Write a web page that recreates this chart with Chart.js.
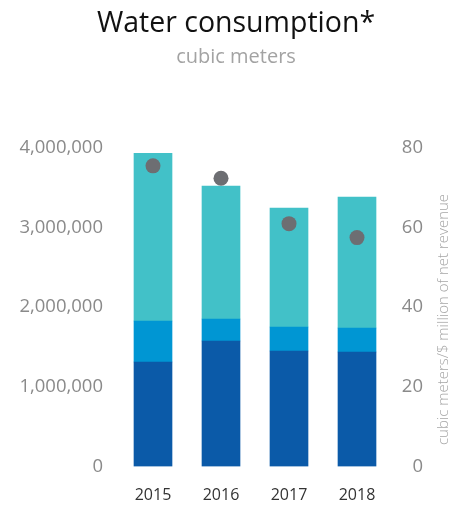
<!DOCTYPE html>
<html>
<head>
<meta charset="utf-8">
<script src="https://cdn.jsdelivr.net/npm/chart.js@4/dist/chart.umd.min.js"></script>
<style>
html,body{margin:0;padding:0;background:#fff;}
#wrap{width:454px;height:508px;position:relative;font-family:'Open Sans','Noto Sans',sans-serif;}
#title{position:absolute;left:0;top:4px;width:472px;text-align:center;font-size:28.5px;line-height:34px;color:#111;font-weight:400;white-space:nowrap;}
#subtitle{position:absolute;left:0;top:44px;width:472px;text-align:center;font-size:20px;line-height:24px;color:#a3a3a3;font-weight:400;white-space:nowrap;}
canvas{position:absolute;left:0;top:0;}
</style>
</head>
<body>
<div id="wrap">
  <canvas id="c" width="454" height="508"></canvas>
  <div id="title">Water consumption*</div>
  <div id="subtitle">cubic meters</div>
</div>
<script>
const years = ['2015', '2016', '2017', '2018'];
const seriesDark = [1310000, 1574000, 1448000, 1436000];
const seriesMid = [514000, 276000, 301000, 301000];
const seriesTeal = [2103000, 1667000, 1492000, 1642000];
const intensity = [75.4, 72.3, 60.9, 57.4];
const leftTicks = [0, 1000000, 2000000, 3000000, 4000000];
const rightTicks = [0, 20, 40, 60, 80];

const FONT = "'Open Sans', 'Noto Sans', sans-serif";

const rightTitlePlugin = {
  id: 'rightTitle',
  afterDraw(chart) {
    const ctx = chart.ctx;
    ctx.save();
    ctx.translate(444, 319.5);
    ctx.rotate(-Math.PI / 2);
    ctx.font = "300 15px " + FONT;
    ctx.fillStyle = '#a6a6a6';
    ctx.textAlign = 'center';
    ctx.textBaseline = 'middle';
    ctx.fillText('cubic meters/$ million of net revenue', 0, 0);
    ctx.restore();
  }
};

new Chart(document.getElementById('c'), {
  type: 'bar',
  data: {
    labels: years,
    datasets: [
      { type: 'line', label: 'Intensity', data: intensity, yAxisID: 'y1', showLine: false,
        pointRadius: 7.5, pointHoverRadius: 7.5, pointBackgroundColor: '#6d6e72', pointBorderWidth: 0,
        borderColor: '#6d6e72', order: 0 },
      { label: 'A', data: seriesDark, backgroundColor: '#0b5aa8', stack: 's', order: 1 },
      { label: 'B', data: seriesMid, backgroundColor: '#0096d3', stack: 's', order: 1 },
      { label: 'C', data: seriesTeal, backgroundColor: '#42c1c8', stack: 's', order: 1 }
    ]
  },
  options: {
    responsive: false,
    animation: false,
    devicePixelRatio: 1,
    layout: { padding: { left: 0, right: 31, top: 147.5, bottom: 3.5 } },
    datasets: { bar: { barThickness: 38 } },
    plugins: {
      legend: { display: false },
      tooltip: { enabled: false },
      title: { display: false },
      subtitle: { display: false }
    },
    scales: {
      x: {
        stacked: true,
        afterFit(scale) { scale.height = 38; },
        grid: { display: false, drawTicks: false },
        border: { display: false },
        ticks: { color: '#333', font: { family: FONT, size: 16 }, padding: 19 }
      },
      y: {
        stacked: true,
        position: 'left',
        min: 0, max: 4000000,
        afterBuildTicks(scale) { scale.ticks = leftTicks.map(v => ({ value: v })); },
        afterFit(scale) { scale.width = 119; },
        grid: { display: false, drawTicks: false },
        border: { display: false },
        ticks: { color: '#8a8a8a', font: { family: FONT, size: 18.5 }, padding: 16,
          callback: v => v.toLocaleString('en-US') }
      },
      y1: {
        position: 'right',
        min: 0, max: 80,
        afterBuildTicks(scale) { scale.ticks = rightTicks.map(v => ({ value: v })); },
        afterFit(scale) { scale.width = 32; },
        grid: { display: false, drawTicks: false },
        border: { display: false },
        ticks: { color: '#8a8a8a', font: { family: FONT, size: 18.5 }, padding: 11, crossAlign: 'far' }
      }
    }
  },
  plugins: [rightTitlePlugin]
});
</script>
</body>
</html>
